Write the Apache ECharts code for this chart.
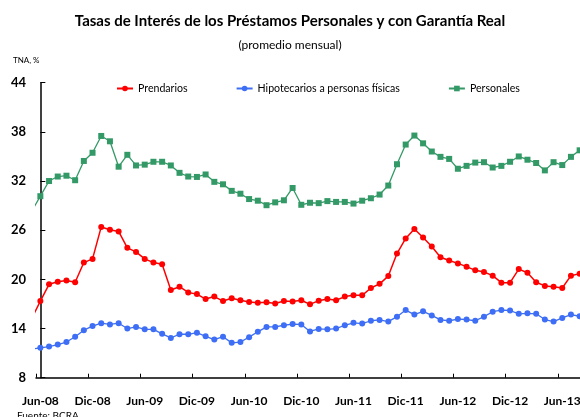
<!DOCTYPE html>
<html>
<head>
<meta charset="utf-8">
<title>Tasas de Interés</title>
<script src="https://cdn.jsdelivr.net/npm/echarts@6/dist/echarts.min.js"></script>
<style>
    html, body { margin: 0; padding: 0; background: #fff; }
    #chart { width: 580px; height: 417px; }
</style>
</head>
<body>
<div id="chart"></div>
<script>
// meses (el primero, May-08, queda fuera del eje y solo da el tramo inicial de la linea)
var meses = [
    'May-08', 'Jun-08', 'Jul-08', 'Ago-08', 'Sep-08', 'Oct-08', 'Nov-08', 'Dic-08',
    'Ene-09', 'Feb-09', 'Mar-09', 'Abr-09', 'May-09', 'Jun-09', 'Jul-09', 'Ago-09', 'Sep-09', 'Oct-09', 'Nov-09', 'Dic-09',
    'Ene-10', 'Feb-10', 'Mar-10', 'Abr-10', 'May-10', 'Jun-10', 'Jul-10', 'Ago-10', 'Sep-10', 'Oct-10', 'Nov-10', 'Dic-10',
    'Ene-11', 'Feb-11', 'Mar-11', 'Abr-11', 'May-11', 'Jun-11', 'Jul-11', 'Ago-11', 'Sep-11', 'Oct-11', 'Nov-11', 'Dic-11',
    'Ene-12', 'Feb-12', 'Mar-12', 'Abr-12', 'May-12', 'Jun-12', 'Jul-12', 'Ago-12', 'Sep-12', 'Oct-12', 'Nov-12', 'Dic-12',
    'Ene-13', 'Feb-13', 'Mar-13', 'Abr-13', 'May-13', 'Jun-13', 'Jul-13', 'Ago-13'
];

var prendarios = [
    15.2, 17.35, 19.4, 19.7, 19.85, 19.65, 22.05, 22.5, 26.4, 26.05, 25.85, 23.85, 23.35, 22.5, 22.05, 21.85,
    18.7, 19.1, 18.4, 18.2, 17.6, 17.9, 17.35, 17.7, 17.45, 17.25, 17.15, 17.2, 17.05, 17.35, 17.3, 17.45,
    16.95, 17.4, 17.6, 17.45, 17.9, 18.05, 18.05, 18.95, 19.45, 20.4, 23.15, 25.0, 26.15, 25.1, 24.0, 22.7,
    22.3, 21.95, 21.55, 21.1, 20.9, 20.45, 19.6, 19.6, 21.25, 20.8, 19.65, 19.2, 19.1, 18.95, 20.45, 20.7
];

var hipotecarios = [
    11.5, 11.65, 11.8, 12.05, 12.35, 13.0, 13.8, 14.3, 14.65, 14.5, 14.65, 14.0, 14.2, 13.9, 13.9, 13.35,
    12.85, 13.3, 13.3, 13.5, 13.05, 12.65, 13.0, 12.25, 12.35, 12.95, 13.6, 14.2, 14.2, 14.4, 14.55, 14.5,
    13.65, 13.95, 13.9, 14.0, 14.4, 14.7, 14.6, 14.95, 15.05, 14.85, 15.45, 16.25, 15.7, 16.1, 15.6, 15.05,
    14.95, 15.15, 15.1, 14.95, 15.45, 16.05, 16.25, 16.2, 15.8, 15.85, 15.8, 15.1, 14.85, 15.3, 15.7, 15.5
];

var personales = [
    28.3, 30.15, 32.0, 32.55, 32.65, 32.1, 34.45, 35.45, 37.5, 36.85, 33.75, 35.2, 33.9, 34.0, 34.35, 34.35,
    33.9, 33.0, 32.55, 32.5, 32.8, 31.9, 31.6, 30.8, 30.45, 29.8, 29.6, 29.05, 29.4, 29.65, 31.15, 29.1,
    29.35, 29.3, 29.55, 29.45, 29.45, 29.25, 29.6, 29.9, 30.35, 31.45, 34.05, 36.45, 37.55, 36.6, 35.6, 34.95,
    34.7, 33.5, 33.85, 34.25, 34.3, 33.65, 33.85, 34.35, 35.0, 34.6, 34.2, 33.3, 34.3, 33.95, 34.95, 35.75
];

var ticksY = [8, 14, 20, 26, 32, 38, 44];

var fuente = 'Lato, "DejaVu Sans", sans-serif';

// pares [posicion, valor]; May-08 cae en -1, fuera del area visible
function pares(arr) {
    return arr.map(function (v, i) { return [i - 1, v]; });
}

var myChart = echarts.init(document.getElementById('chart'), null, { renderer: 'canvas' });

var option = {
    backgroundColor: '#fff',
    animation: false,
    title: [
        {
            text: 'Tasas de Interés de los Préstamos Personales y con Garantía Real',
            left: 'center',
            top: 9,
            textStyle: { fontFamily: fuente, fontSize: 15, fontWeight: 'bold', color: '#000' }
        },
        {
            text: '(promedio mensual)',
            left: 'center',
            top: 34,
            textStyle: { fontFamily: fuente, fontSize: 12, fontWeight: 'normal', color: '#000' }
        },
        {
            text: 'TNA, %',
            left: 8,
            top: 51,
            textStyle: { fontFamily: fuente, fontSize: 8, fontWeight: 'normal', color: '#000' }
        },
        {
            text: 'Fuente: BCRA',
            left: 12,
            top: 406,
            textStyle: { fontFamily: fuente, fontSize: 10, fontWeight: 'normal', color: '#000' }
        }
    ],
    legend: {
        left: 116,
        top: 83,
        padding: 0,
        itemGap: 48,
        itemWidth: 16,
        itemHeight: 7,
        textStyle: { fontFamily: fuente, fontSize: 10.6, color: '#000' },
        data: ['Prendarios', 'Hipotecarios a personas físicas', 'Personales']
    },
    grid: {
        left: 36,
        top: 82.7,
        right: -4,
        bottom: 39.3,
        containLabel: false,
        outerBoundsMode: 'none'
    },
    xAxis: [
        {
            type: 'category',
            data: meses.slice(1),
            boundaryGap: true,
            axisLine: { show: true, lineStyle: { color: '#000', width: 1.5 } },
            axisTick: { show: true, inside: true, length: 4, interval: 5, lineStyle: { color: '#000' } },
            axisLabel: {
                interval: 5,
                margin: 17,
                fontFamily: fuente,
                fontSize: 12,
                fontWeight: 'bold',
                color: '#000'
            },
            splitLine: { show: false }
        },
        {
            type: 'value',
            min: 0.5 - 1,
            max: meses.length - 1.5,
            show: false
        }
    ],
    yAxis: {
        type: 'value',
        min: ticksY[0],
        max: ticksY[ticksY.length - 1],
        interval: 6,
        axisLine: { show: true, lineStyle: { color: '#000', width: 1.5 } },
        axisTick: { show: true, inside: true, length: 5, lineStyle: { color: '#000' } },
        axisLabel: {
            margin: 10,
            fontFamily: fuente,
            fontSize: 13,
            fontWeight: 'bold',
            color: '#000'
        },
        splitLine: { show: false }
    },
    series: [
        {
            name: 'Prendarios',
            type: 'line',
            xAxisIndex: 1,
            data: pares(prendarios),
            symbol: 'circle',
            symbolSize: 6,
            clip: true,
            itemStyle: { color: '#ff0000' },
            lineStyle: { color: '#ff0000', width: 1.5 }
        },
        {
            name: 'Hipotecarios a personas físicas',
            type: 'line',
            xAxisIndex: 1,
            data: pares(hipotecarios),
            symbol: 'circle',
            symbolSize: 6,
            clip: true,
            itemStyle: { color: '#3d6ef5' },
            lineStyle: { color: '#3d6ef5', width: 1.3 }
        },
        {
            name: 'Personales',
            type: 'line',
            xAxisIndex: 1,
            data: pares(personales),
            symbol: 'rect',
            symbolSize: 6,
            clip: true,
            itemStyle: { color: '#339966' },
            lineStyle: { color: '#339966', width: 1.3 }
        }
    ]
};

myChart.setOption(option);
</script>
</body>
</html>
